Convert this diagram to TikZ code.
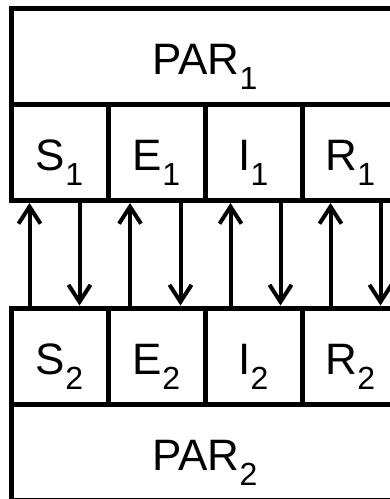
\documentclass[tikz,border=0pt]{standalone}
\usepackage{fontspec}
\setmainfont{Liberation Sans}
\usetikzlibrary{positioning,arrows.meta}
\newcommand{\lowsub}[1]{\raisebox{-15pt}{\fontsize{32}{32}\selectfont #1}}

\begin{document}
\begin{tikzpicture}[x=1pt,y=-1pt,
        box/.style={draw,line width=5pt,inner sep=0pt,outer sep=0pt,minimum height=96pt,
            text height=36pt,text depth=0pt,font=\fontsize{44}{50}\selectfont},
        cell/.style={box,minimum width=97pt},
        wide/.style={box,minimum width=388pt},
        flow/.style={line width=4pt,-{Straight Barb[length=17pt,width=22pt]},shorten >=2.5pt}]
        \clip (0,0) rectangle (390,499);

        \node[wide,anchor=north west] (PAR1) at (11,8.5) {PAR\lowsub{1}};
        \node[cell,anchor=north west] (S1) at (PAR1.south west) {S\lowsub{1}};
        \node[cell,right=0pt of S1] (E1) {E\lowsub{1}};
        \node[cell,right=0pt of E1] (I1) {I\lowsub{1}};
        \node[cell,right=0pt of I1] (R1) {R\lowsub{1}};

        \node[cell,anchor=north west] (S2) at (11,308) {S\lowsub{2}};
        \node[cell,right=0pt of S2] (E2) {E\lowsub{2}};
        \node[cell,right=0pt of E2] (I2) {I\lowsub{2}};
        \node[cell,right=0pt of I2] (R2) {R\lowsub{2}};
        \node[wide,anchor=north west] (PAR2) at (S2.south west) {PAR\lowsub{2}};

        % up and down between the two rows
        \foreach \c/\u/\d in {S/18.5/68.5,E/22/72.5,I/25.5/75.5,R/28.5/78.5} {
            \draw[flow] ([xshift=\u pt]\c2.north west) -- ([xshift=\u pt]\c1.south west);
            \draw[flow] ([xshift=\d pt]\c1.south west) -- ([xshift=\d pt]\c2.north west);
        }
    \end{tikzpicture}
\end{document}
